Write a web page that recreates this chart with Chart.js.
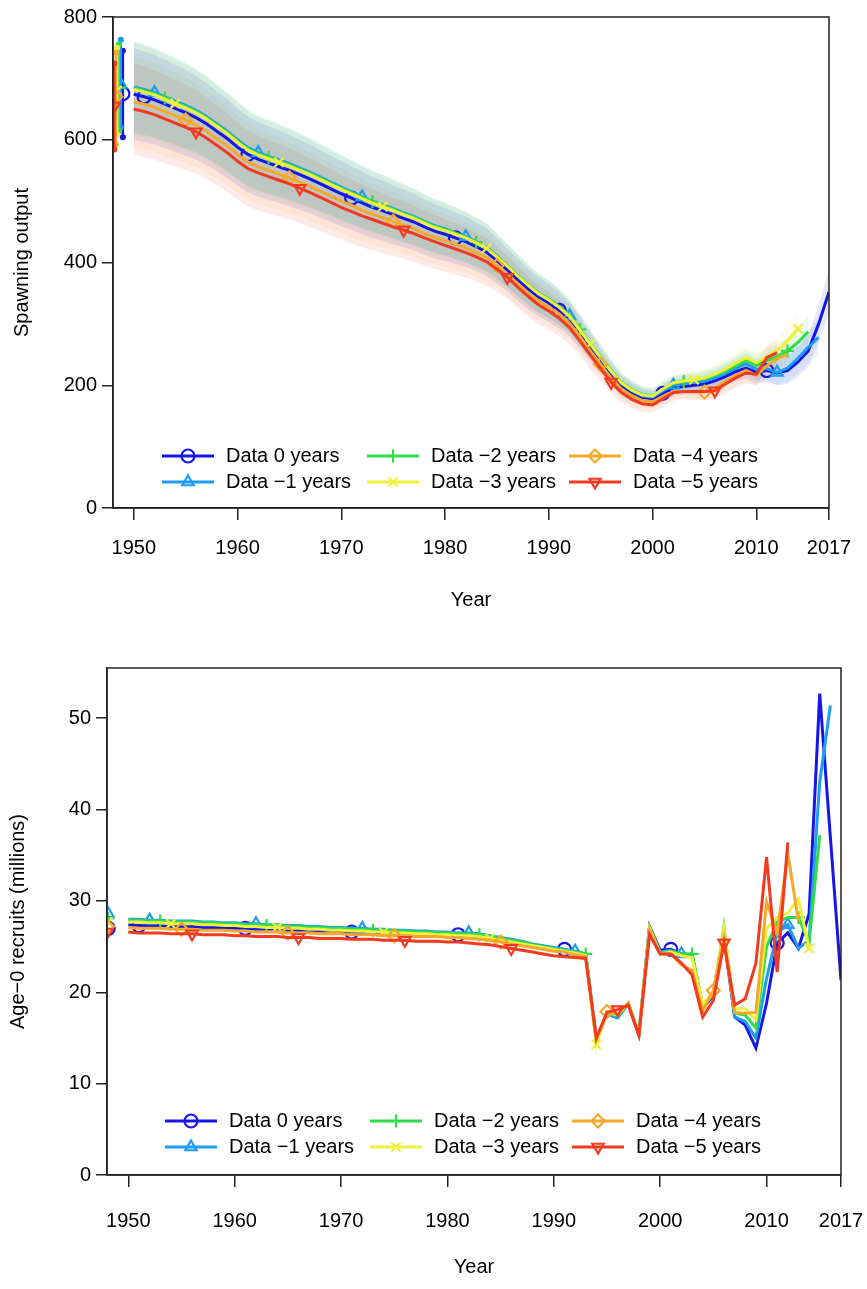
<!DOCTYPE html>
<html>
<head>
<meta charset="utf-8">
<script src="https://cdn.jsdelivr.net/npm/chart.js@4.4.1/dist/chart.umd.min.js"></script>
<style>
  html, body { margin: 0; padding: 0; background: #fff; }
  #wrapTop { position: absolute; left: 0; top: 0; width: 867px; height: 625px; }
  #wrapBottom { position: absolute; left: 0; top: 640px; width: 867px; height: 649px; }
</style>
</head>
<body>
<div id="wrapTop"><canvas id="spawnChart"></canvas></div>
<div id="wrapBottom"><canvas id="recruitChart"></canvas></div>
<script>
// ---- data ----
const years = [1950,1951,1952,1953,1954,1955,1956,1957,1958,1959,
  1960,1961,1962,1963,1964,1965,1966,1967,1968,1969,
  1970,1971,1972,1973,1974,1975,1976,1977,1978,1979,
  1980,1981,1982,1983,1984,1985,1986,1987,1988,1989,
  1990,1991,1992,1993,1994,1995,1996,1997,1998,1999,
  2000,2001,2002,2003,2004,2005,2006,2007,2008,2009,
  2010,2011,2012,2013,2014,2015,2016,2017];

const seriesLabels = ['Data 0 years', 'Data \u22121 years', 'Data \u22122 years',
  'Data \u22123 years', 'Data \u22124 years', 'Data \u22125 years'];

const xTicks = [1950, 1960, 1970, 1980, 1990, 2000, 2010, 2017];
const spawnTicks = [0, 200, 400, 600, 800];
const recTicks = [0, 10, 20, 30, 40, 50];

// spawning output, one array per retrospective run (each ends one year earlier)
const spawn0 = [674,670,665,658,651,644,636,626,614,602,
  588,576,568,562,556,550,543,536,528,520,
  512,505,497,490,484,478,472,466,458,451,
  446,440,434,426,417,403,388,372,357,344,
  334,322,307,285,262,240,218,199,188,180,
  178,187,196,198,200,202,207,214,222,228,
  221,224,220,224,238,256,300,352];
const spawnM1 = [686,682,677,670,663,656,648,638,626,614,
  600,587,579,573,567,561,554,547,539,531,
  523,515,507,500,494,488,481,475,467,460,
  455,448,442,434,425,411,395,379,364,350,
  340,328,313,290,267,244,222,203,191,183,
  181,191,200,203,205,207,212,219,228,235,
  226,227,221,228,244,262,278];
const spawnM2 = [684,680,675,668,661,654,646,636,624,612,
  598,585,577,571,565,559,552,545,537,529,
  521,514,506,499,493,487,480,474,466,459,
  454,448,441,433,424,410,395,379,364,350,
  340,328,313,291,268,246,224,205,193,185,
  183,194,203,206,208,210,216,223,232,240,
  232,240,247,256,270,287];
const spawnM3 = [682,678,673,666,659,652,644,634,622,610,
  596,583,575,569,563,557,550,543,535,527,
  519,512,504,497,491,485,478,472,464,457,
  452,446,440,432,423,409,394,378,363,349,
  339,327,312,290,267,245,223,204,192,184,
  182,194,204,207,209,212,218,226,236,245,
  237,246,256,272,292];
const spawnM4 = [662,658,653,646,639,632,624,614,602,590,
  576,564,556,550,544,538,531,524,516,508,
  500,493,485,479,473,467,461,455,447,441,
  436,430,424,416,408,395,380,365,350,337,
  327,316,301,279,256,234,212,194,183,175,
  173,182,190,190,189,189,196,206,216,224,
  216,232,243,250];
const spawnM5 = [650,646,641,634,627,620,613,603,591,579,
  565,553,546,540,534,528,521,514,506,498,
  490,483,476,470,464,458,453,447,440,434,
  428,422,416,409,401,389,376,360,345,331,
  321,309,294,272,249,227,205,188,177,170,
  168,178,188,190,190,190,191,202,212,220,
  218,245,253];
// half width of the 95% interval by year
const spawnCi = [75,74,73,72,71,70,68,67,65,64,
  63,62,61,60,59,58,57,56,55,54,
  53,52,51,50,49,48,47,46,45,44,
  43,42,41,40,39,37,35,34,33,32,
  31,29,27,25,23,20,18,16,15,14,
  13,13,13,13,13,14,14,15,16,17,
  18,19,20,22,24,26,30,36];
// unfished (virgin) spawning output with interval
const virginYear = 1948;
const virginSp = [675, 690, 685, 680, 670, 655];
const virginSpLo = [604, 620, 614, 608, 592, 584];
const virginSpHi = [745, 763, 755, 750, 742, 724];

// age-0 recruits (millions)
const rec0 = [27.4,27.3,27.3,27.3,27.2,27.2,27.2,27.1,27.1,27.1,
  27.0,27.0,26.9,26.9,26.9,26.8,26.8,26.8,26.7,26.7,
  26.7,26.6,26.6,26.6,26.5,26.5,26.5,26.4,26.4,26.4,
  26.3,26.3,26.2,26.1,26.0,25.8,25.6,25.4,25.2,25.0,
  24.8,24.7,24.4,24.2,14.8,17.7,17.3,18.8,15.4,27.2,
  24.6,24.7,24.2,24.1,18.3,19.6,26.0,17.3,16.4,13.9,
  18.8,25.4,26.5,24.8,28.6,52.7,37.0,21.3];
const recM1 = [28.0,28.0,27.9,27.9,27.8,27.8,27.8,27.7,27.7,27.6,
  27.6,27.5,27.5,27.4,27.4,27.3,27.3,27.2,27.2,27.1,
  27.1,27.0,27.0,26.9,26.9,26.8,26.8,26.7,26.7,26.6,
  26.6,26.5,26.5,26.4,26.2,26.0,25.8,25.6,25.3,25.1,
  24.9,24.7,24.5,24.2,14.6,17.6,17.2,18.7,15.3,27.1,
  24.4,24.6,24.2,24.1,18.4,19.7,26.5,17.3,16.8,15.0,
  21.5,26.5,27.4,24.8,25.7,43.0,51.4];
const recM2 = [27.9,27.9,27.8,27.8,27.7,27.7,27.7,27.6,27.6,27.5,
  27.5,27.4,27.4,27.3,27.3,27.2,27.2,27.1,27.1,27.0,
  27.0,26.9,26.9,26.8,26.8,26.7,26.7,26.6,26.6,26.5,
  26.5,26.4,26.4,26.3,26.1,25.9,25.7,25.5,25.2,25.0,
  24.8,24.6,24.4,24.2,14.6,17.8,17.4,18.8,15.4,27.1,
  24.3,24.5,24.2,24.2,18.6,19.9,27.2,17.7,17.5,16.1,
  25.0,27.7,28.2,28.2,25.4,37.2];
const recM3 = [27.7,27.7,27.6,27.6,27.5,27.5,27.5,27.4,27.4,27.3,
  27.3,27.2,27.2,27.1,27.1,27.0,27.0,26.9,26.9,26.8,
  26.8,26.7,26.7,26.6,26.6,26.5,26.5,26.4,26.4,26.3,
  26.3,26.2,26.2,26.1,25.9,25.7,25.5,25.3,25.1,24.9,
  24.7,24.5,24.3,24.0,14.3,17.8,17.5,18.8,15.4,27.0,
  24.2,24.4,24.0,23.8,18.7,20.0,27.0,18.2,18.2,17.0,
  27.0,28.2,28.7,30.2,24.8];
const recM4 = [27.1,27.0,27.0,27.0,26.9,26.9,26.9,26.8,26.8,26.8,
  26.7,26.7,26.6,26.6,26.6,26.5,26.5,26.5,26.4,26.4,
  26.4,26.3,26.3,26.3,26.2,26.2,26.2,26.1,26.1,26.1,
  26.0,26.0,25.9,25.8,25.7,25.5,25.3,25.1,24.9,24.7,
  24.5,24.4,24.1,23.9,14.8,17.9,17.6,18.8,15.4,26.8,
  24.2,24.2,23.0,22.4,18.0,20.2,26.0,17.8,17.7,17.8,
  29.9,26.5,35.2,27.8];
const recM5 = [26.6,26.5,26.5,26.5,26.4,26.4,26.4,26.3,26.3,26.3,
  26.2,26.2,26.1,26.1,26.1,26.0,26.0,26.0,25.9,25.9,
  25.9,25.8,25.8,25.8,25.7,25.7,25.7,25.6,25.6,25.6,
  25.5,25.5,25.4,25.3,25.2,25.0,24.8,24.6,24.4,24.2,
  24.0,23.9,23.8,23.7,15.0,17.8,18.1,18.6,15.3,26.3,
  24.2,24.2,23.2,21.9,17.3,19.1,25.4,18.6,19.3,23.2,
  34.8,22.2,36.4];
const virginRec = [27.0, 28.6, 28.1, 27.7, 27.2, 26.6];

const spawnSeries = [spawn0, spawnM1, spawnM2, spawnM3, spawnM4, spawnM5];
const recSeries = [rec0, recM1, recM2, recM3, recM4, recM5];

// ---- style ----
const colors = ['#1616e8', '#1f9cf4', '#30dc48', '#eef03c', '#f7a82c', '#f13a1f'];
const markerStyles = ['circle', 'triangle', 'cross', 'crossRot', 'rectRot', 'triangle'];
const markerRotation = [0, 0, 0, 0, 0, 180];
const markerStart = [1951, 1952, 1953, 1954, 1955, 1956];
const virginJitterTop = [0.95, 0.75, 0.55, 0.4, 0.27, 0.12];
const virginJitterBottom = [0.12, 0.1, 0.08, 0.06, 0.04, 0.02];
const fontFamily = "'Liberation Sans', Arial, sans-serif";
const axisColor = '#222';

Chart.defaults.color = '#000';
Chart.defaults.font.family = fontFamily;
Chart.defaults.font.size = 20;

function hexAlpha(hex, a) {
  const n = parseInt(hex.slice(1), 16);
  return 'rgba(' + (n >> 16) + ',' + ((n >> 8) & 255) + ',' + (n & 255) + ',' + a + ')';
}

function markerRadius(i, r) {
  return ctx => ((years[ctx.dataIndex] - markerStart[i]) % 10 === 0 ? r : 0);
}

function lineSets(list) {
  return list.map((vals, i) => ({
    label: seriesLabels[i],
    data: vals.map((v, k) => ({ x: years[k], y: v })),
    borderColor: colors[i],
    borderWidth: 3,
    pointStyle: markerStyles[i],
    pointRotation: markerRotation[i],
    pointRadius: markerRadius(i, 6.5),
    pointBorderColor: colors[i],
    pointBackgroundColor: 'rgba(0,0,0,0)',
    pointBorderWidth: 2.2,
    fill: false,
    order: 10 - i
  }));
}

function bandSets(list, ci) {
  const out = [];
  list.forEach((vals, i) => {
    out.push({
      data: vals.map((v, k) => ({ x: years[k], y: v - ci[k] })),
      borderColor: 'rgba(0,0,0,0)', borderWidth: 1, pointRadius: 0, fill: false, order: 40
    });
    out.push({
      data: vals.map((v, k) => ({ x: years[k], y: v + ci[k] })),
      borderColor: 'rgba(0,0,0,0)', borderWidth: 1, pointRadius: 0,
      fill: '-1', backgroundColor: hexAlpha(colors[i], 0.1), order: 40
    });
  });
  return out;
}

function virginTopSets() {
  const out = [];
  virginSp.forEach((v, i) => {
    const x = virginYear + virginJitterTop[i];
    out.push({
      data: [{ x: x, y: virginSpLo[i] }, { x: x, y: virginSpHi[i] }],
      borderColor: colors[i], borderWidth: 2.5, pointRadius: 1.8,
      pointBackgroundColor: colors[i], pointBorderColor: colors[i], fill: false, order: 10 - i
    });
    out.push({
      data: [{ x: x, y: v }],
      pointStyle: markerStyles[i], pointRotation: markerRotation[i], pointRadius: 6.5,
      pointBorderColor: colors[i], pointBackgroundColor: 'rgba(0,0,0,0)', pointBorderWidth: 2.2,
      showLine: false, fill: false, order: 10 - i
    });
  });
  return out;
}

function virginBottomSets() {
  return virginRec.map((v, i) => ({
    data: [{ x: virginYear + virginJitterBottom[i], y: v }],
    pointStyle: markerStyles[i], pointRotation: markerRotation[i], pointRadius: 6.5,
    pointBorderColor: colors[i], pointBackgroundColor: 'rgba(0,0,0,0)', pointBorderWidth: 2.2,
    showLine: false, fill: false, clip: 0, order: 10 - i
  }));
}

// box around the plot + legend inside the plot, R style
const legendCols = [-245, -40, 162];
const frameLegend = {
  id: 'frameLegend',
  afterDraw(chart, args, opts) {
    const ctx = chart.ctx, a = chart.chartArea;
    ctx.save();
    ctx.strokeStyle = axisColor;
    ctx.lineWidth = 1.5;
    ctx.strokeRect(a.left, a.top, a.right - a.left, a.bottom - a.top);
    const cx = (a.left + a.right) / 2;
    ctx.font = '20px ' + fontFamily;
    ctx.textBaseline = 'middle';
    seriesLabels.forEach((lab, i) => {
      const tx = cx + legendCols[Math.floor(i / 2)];
      const ty = a.bottom + opts.rows[i % 2];
      ctx.strokeStyle = colors[i];
      ctx.lineWidth = 3;
      ctx.beginPath();
      ctx.moveTo(tx - 64, ty);
      ctx.lineTo(tx - 12, ty);
      ctx.stroke();
      ctx.lineWidth = 2.2;
      ctx.fillStyle = 'rgba(0,0,0,0)';
      Chart.helpers.drawPoint(ctx, { pointStyle: markerStyles[i], rotation: markerRotation[i], radius: 6.5, borderWidth: 2.2 }, tx - 38, ty);
      ctx.fillStyle = '#000';
      ctx.fillText(lab, tx, ty);
    });
    ctx.restore();
  }
};

function makeOptions(cfg) {
  return {
    responsive: true,
    maintainAspectRatio: false,
    animation: false,
    events: [],
    layout: { padding: cfg.padding },
    plugins: {
      legend: { display: false },
      tooltip: { enabled: false },
      frameLegend: { rows: cfg.legendRows }
    },
    scales: {
      x: {
        type: 'linear',
        min: 1948,
        max: 2017,
        afterBuildTicks: s => { s.ticks = xTicks.map(v => ({ value: v })); },
        afterFit: s => { s.height = cfg.xHeight; s.paddingLeft = 0; s.paddingRight = 0; },
        ticks: { padding: cfg.xPad, maxRotation: 0, autoSkip: false, callback: v => String(v) },
        grid: { drawOnChartArea: false, drawTicks: true, tickLength: 12, color: axisColor, lineWidth: 1.5 },
        border: { display: true, color: axisColor, width: 1.5 },
        title: { display: true, text: 'Year', padding: { top: 0, bottom: 0 } }
      },
      y: {
        min: 0,
        max: cfg.yMax,
        afterBuildTicks: s => { s.ticks = cfg.yTicks.map(v => ({ value: v })); },
        afterFit: s => { s.width = cfg.yWidth; },
        ticks: { padding: 5 },
        grid: { drawOnChartArea: false, drawTicks: true, tickLength: 11, color: axisColor, lineWidth: 1.5 },
        border: { display: true, color: axisColor, width: 1.5 },
        title: { display: true, text: cfg.yTitle, padding: { top: cfg.yTitlePad, bottom: 0 } }
      }
    }
  };
}

new Chart(document.getElementById('spawnChart'), {
  type: 'line',
  data: { datasets: bandSets(spawnSeries, spawnCi).concat(lineSets(spawnSeries), virginTopSets()) },
  options: makeOptions({
    padding: { left: 0, right: 38, top: 15, bottom: 13 },
    legendRows: [-52, -26],
    xHeight: 104, xPad: 16, yWidth: 113, yMax: 800, yTicks: spawnTicks,
    yTitle: 'Spawning output', yTitlePad: 10
  }),
  plugins: [frameLegend]
});

new Chart(document.getElementById('recruitChart'), {
  type: 'line',
  data: { datasets: lineSets(recSeries).concat(virginBottomSets()) },
  options: makeOptions({
    padding: { left: 0, right: 26, top: 28, bottom: 10 },
    legendRows: [-54, -28],
    xHeight: 104, xPad: 22, yWidth: 107, yMax: 55.5, yTicks: recTicks,
    yTitle: 'Age\u22120 recruits (millions)', yTitlePad: 6
  }),
  plugins: [frameLegend]
});
</script>
</body>
</html>
